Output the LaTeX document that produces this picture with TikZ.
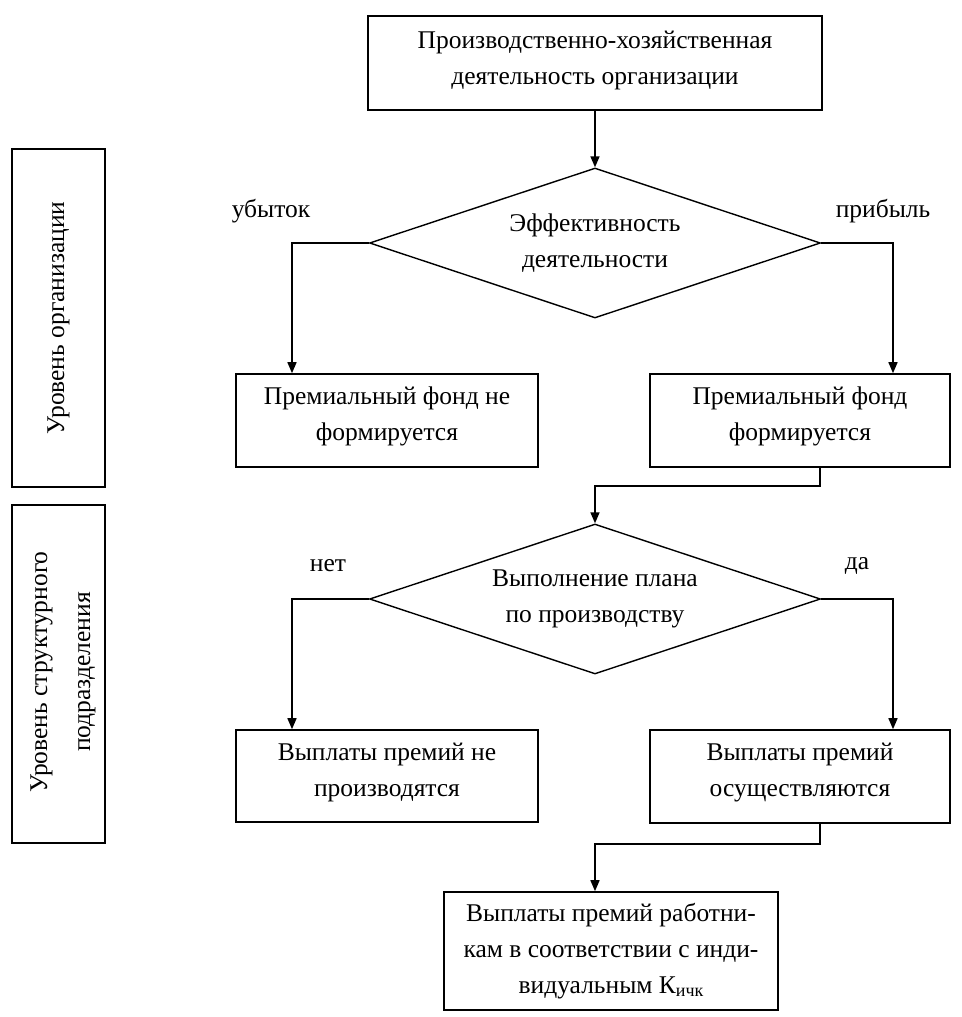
\documentclass[tikz,border=0pt]{standalone}
\usepackage{fontspec}
\setmainfont{Liberation Serif}
\usetikzlibrary{shapes.geometric,arrows.meta,calc}
\begin{document}
\begin{tikzpicture}[x=1pt,y=-1pt,
  every node/.style={font=\fontsize{25.5}{36}\selectfont, align=center},
  box/.style={draw, line width=1.6pt, inner sep=0pt},
  dia/.style={draw, diamond, aspect=3, line width=1.4pt, inner sep=0pt, minimum width=451pt, minimum height=150pt},
  lbl/.style={inner sep=0pt},
  arr/.style={line width=1.5pt, -{Triangle[length=11pt,width=9pt]}}]
\useasboundingbox (0,0) rectangle (961,1017);
\node[box, minimum width=454pt, minimum height=94pt] (top) at (595,63) {};
\node[lbl] (topt) at (595,60) {Производственно-хозяйственная\\деятельность организации};
\node[dia] (d1) at (595,243) {};
\node[lbl] (d1t) at (d1.center) {Эффективность\\деятельности};
\node[box, minimum width=302pt, minimum height=93pt] (l1) at (387,420.5) {};
\node[lbl] (l1t) at (387,416.5) {Премиальный фонд не\\формируется};
\node[box, minimum width=300pt, minimum height=93pt] (r1) at (800,420.5) {};
\node[lbl] (r1t) at (800,416.5) {Премиальный фонд\\формируется};
\node[dia] (d2) at (595,599) {};
\node[lbl] (d2t) at (d2.center) {Выполнение плана\\по производству};
\node[box, minimum width=302pt, minimum height=92pt] (l2) at (387,776) {};
\node[lbl] (l2t) at (387,772) {Выплаты премий не\\производятся};
\node[box, minimum width=300pt, minimum height=93pt] (r2) at (800,776.5) {};
\node[lbl] (r2t) at (800,772.5) {Выплаты премий\\осуществляются};
\node[box, minimum width=334pt, minimum height=118pt] (bot) at (611,951) {Выплаты премий работни-\\кам в соответствии с инди-\\видуальным К\raisebox{-3pt}{\fontsize{18}{18}\selectfont ичк}};
\node[box, minimum width=93pt, minimum height=338pt] (lv1) at (58.5,318) {};
\node[rotate=90, lbl] (lv1t) at (lv1.center) {Уровень организации};
\node[box, minimum width=93pt, minimum height=338pt] (lv2) at (58.5,674) {};
\node[rotate=90, lbl, font=\fontsize{25.5}{43}\selectfont] (lv2t) at (63,672) {Уровень структурного\\подразделения};
\node[lbl] (t1) at (271,211) {убыток};
\node[lbl] (t2) at (883,211) {прибыль};
\node[lbl] (t3) at (328,566) {нет};
\node[lbl] (t4) at (857,566) {да};
\draw[arr] (top.south) -- (d1.north);
\draw[arr] (d1.west) -| ([xshift=-95pt]l1.north);
\draw[arr] (d1.east) -| ([xshift=93pt]r1.north);
\draw[arr] ([xshift=20pt]r1.south) -- ++(0,18) -| (d2.north);
\draw[arr] (d2.west) -| ([xshift=-95pt]l2.north);
\draw[arr] (d2.east) -| ([xshift=93pt]r2.north);
\draw[arr] ([xshift=20pt]r2.south) -- ++(0,20) -| (bot.north -| d2.north);
\end{tikzpicture}
\end{document}
